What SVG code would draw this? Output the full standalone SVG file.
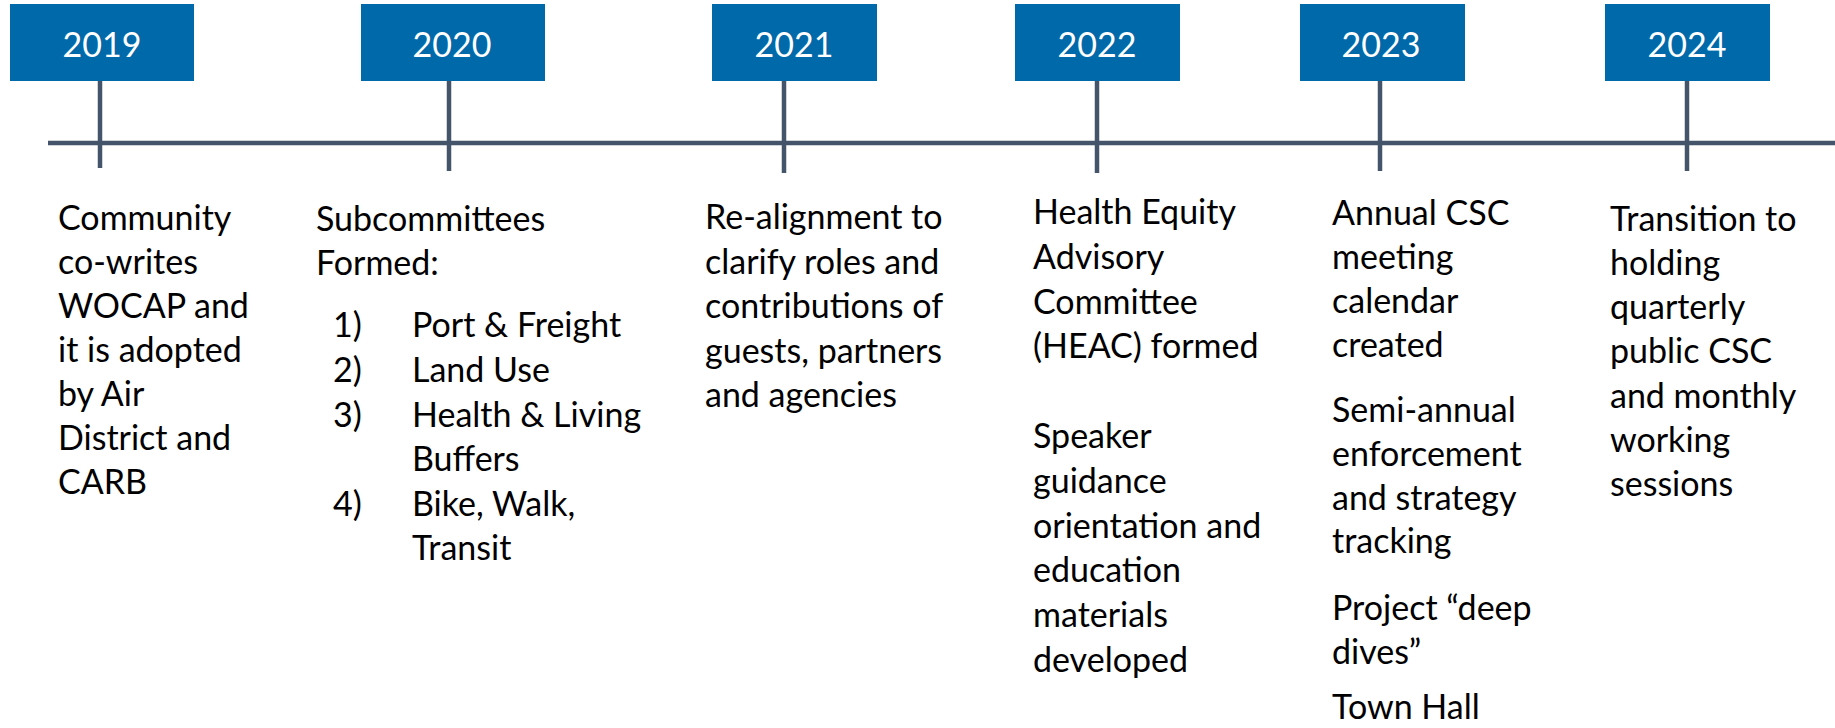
<svg xmlns="http://www.w3.org/2000/svg" width="1835" height="728" viewBox="0 0 1835 728">
<style>
.box{fill:#0069AA}
.yr{font-family:Lato,"Liberation Sans",sans-serif;font-size:34px;fill:#FFFFFF;text-anchor:middle}
.tx{font-family:Lato,"Liberation Sans",sans-serif;font-size:34px;fill:#000000}
.ln{stroke:#44546A;stroke-width:4.5;fill:none}
</style>
<rect width="1835" height="728" fill="#FFFFFF"/>
<g id="connectors">
<line class="ln" x1="48" y1="143" x2="1835" y2="143"/>
<line class="ln" x1="100" y1="80" x2="100" y2="168"/>
<line class="ln" x1="449" y1="80" x2="449" y2="171"/>
<line class="ln" x1="784" y1="80" x2="784" y2="173"/>
<line class="ln" x1="1097" y1="80" x2="1097" y2="173"/>
<line class="ln" x1="1380" y1="80" x2="1380" y2="171"/>
<line class="ln" x1="1687" y1="80" x2="1687" y2="171"/>
</g>
<g id="n2019">
<rect class="box" x="10" y="4" width="184" height="77"/>
<text class="yr" x="102" y="57">2019</text>
<text class="tx"><tspan x="58" y="230">Community</tspan><tspan x="58" y="274">co-writes</tspan><tspan x="58" y="318">WOCAP and</tspan><tspan x="58" y="362">it is adopted</tspan><tspan x="58" y="406">by Air</tspan><tspan x="58" y="450">District and</tspan><tspan x="58" y="494">CARB</tspan></text>
</g>
<g id="n2020">
<rect class="box" x="361" y="4" width="184" height="77"/>
<text class="yr" x="452" y="57">2020</text>
<text class="tx"><tspan x="316" y="231">Subcommittees</tspan><tspan x="316" y="275">Formed:</tspan></text>
<text class="tx"><tspan x="333" y="337">1)</tspan><tspan x="333" y="382">2)</tspan><tspan x="333" y="427">3)</tspan><tspan x="333" y="516">4)</tspan></text>
<text class="tx"><tspan x="412" y="337">Port &amp; Freight</tspan><tspan x="412" y="382">Land Use</tspan><tspan x="412" y="427">Health &amp; Living</tspan><tspan x="412" y="471">Buffers</tspan><tspan x="412" y="516">Bike, Walk,</tspan><tspan x="412" y="560">Transit</tspan></text>
</g>
<g id="n2021">
<rect class="box" x="712" y="4" width="165" height="77"/>
<text class="yr" x="794" y="57">2021</text>
<text class="tx"><tspan x="705" y="229">Re-alignment to</tspan><tspan x="705" y="273.5">clarify roles and</tspan><tspan x="705" y="318">contributions of</tspan><tspan x="705" y="362.5">guests, partners</tspan><tspan x="705" y="407">and agencies</tspan></text>
</g>
<g id="n2022">
<rect class="box" x="1015" y="4" width="165" height="77"/>
<text class="yr" x="1097" y="57">2022</text>
<text class="tx"><tspan x="1033" y="224">Health Equity</tspan><tspan x="1033" y="269">Advisory</tspan><tspan x="1033" y="314">Committee</tspan><tspan x="1033" y="358">(HEAC) formed</tspan><tspan x="1033" y="448">Speaker</tspan><tspan x="1033" y="493">guidance</tspan><tspan x="1033" y="538">orientation and</tspan><tspan x="1033" y="582">education</tspan><tspan x="1033" y="627">materials</tspan><tspan x="1033" y="672">developed</tspan></text>
</g>
<g id="n2023">
<rect class="box" x="1300" y="4" width="165" height="77"/>
<text class="yr" x="1381" y="57">2023</text>
<text class="tx"><tspan x="1332" y="224.5">Annual CSC</tspan><tspan x="1332" y="268.5">meeting</tspan><tspan x="1332" y="312.5">calendar</tspan><tspan x="1332" y="356.5">created</tspan><tspan x="1332" y="422">Semi-annual</tspan><tspan x="1332" y="466">enforcement</tspan><tspan x="1332" y="510">and strategy</tspan><tspan x="1332" y="553">tracking</tspan><tspan x="1332" y="619.5">Project “deep</tspan><tspan x="1332" y="663.5">dives”</tspan><tspan x="1332" y="719">Town Hall</tspan></text>
</g>
<g id="n2024">
<rect class="box" x="1605" y="4" width="165" height="77"/>
<text class="yr" x="1687" y="57">2024</text>
<text class="tx"><tspan x="1610" y="231">Transition to</tspan><tspan x="1610" y="275">holding</tspan><tspan x="1610" y="319">quarterly</tspan><tspan x="1610" y="363">public CSC</tspan><tspan x="1610" y="408">and monthly</tspan><tspan x="1610" y="452">working</tspan><tspan x="1610" y="496">sessions</tspan></text>
</g>
</svg>
